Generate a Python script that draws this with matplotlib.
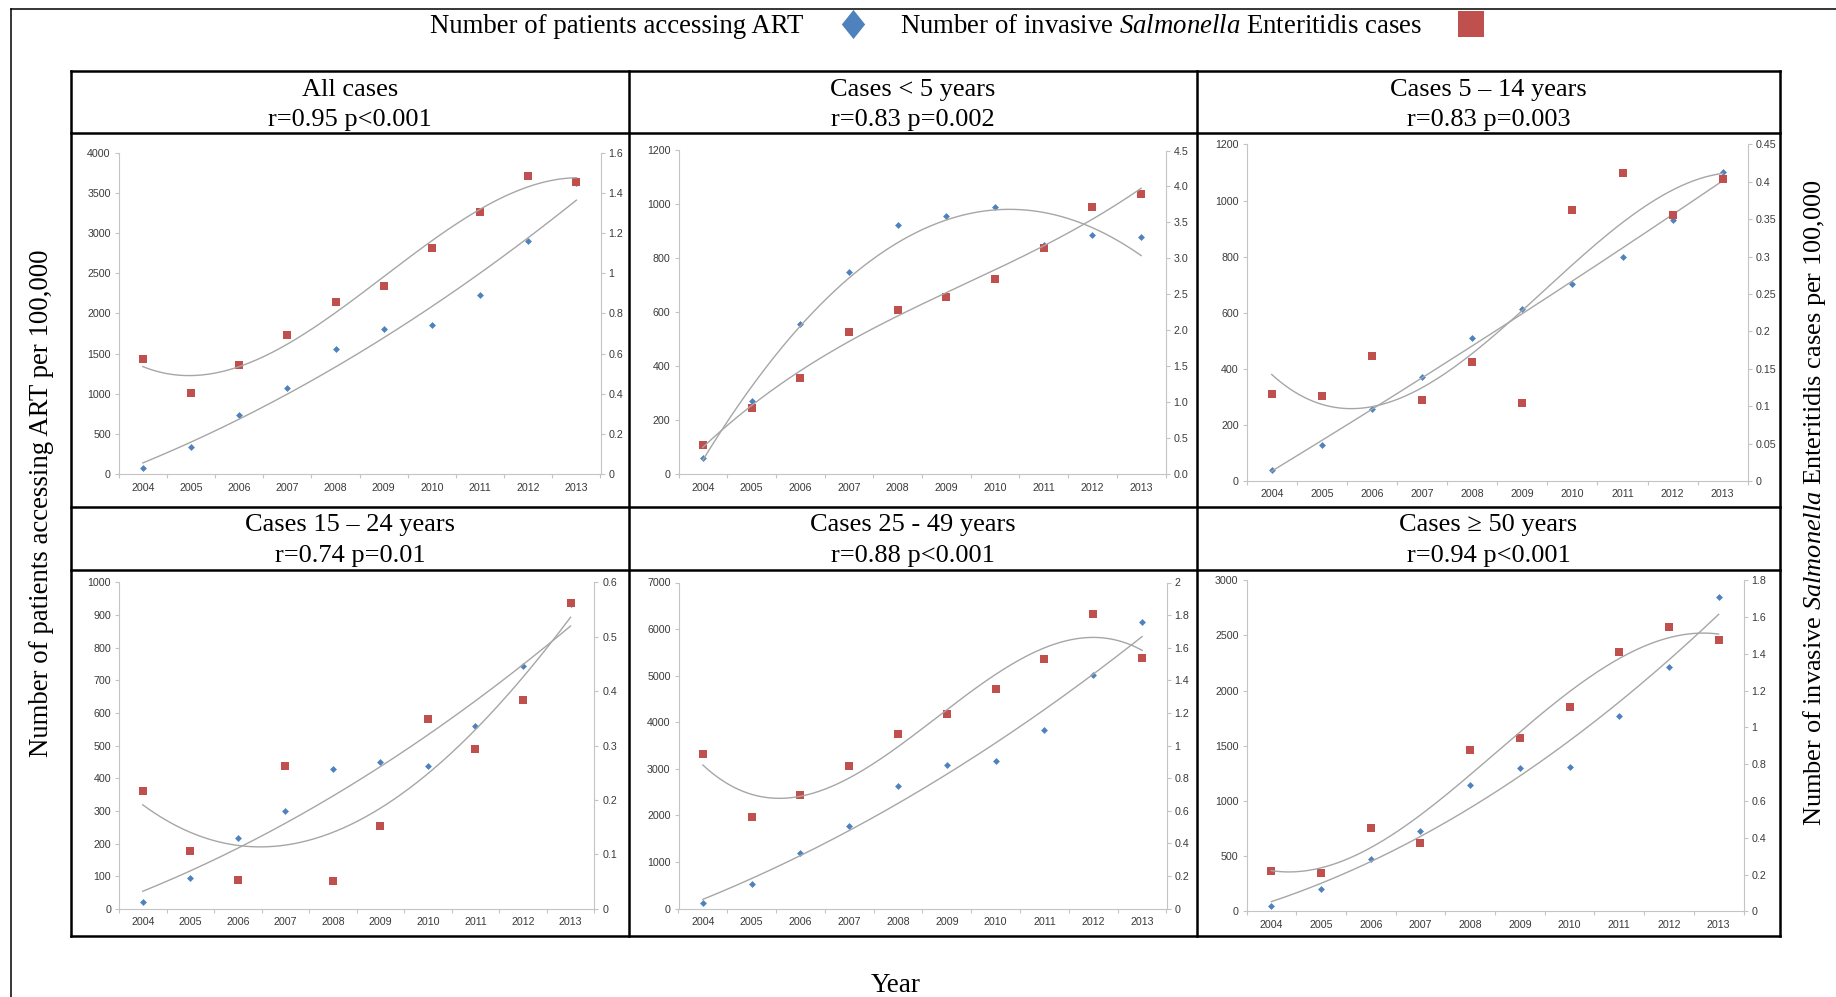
import numpy as np
import matplotlib
matplotlib.use("Agg")
import matplotlib.pyplot as plt
from matplotlib.lines import Line2D
from matplotlib.ticker import FixedLocator, FuncFormatter, NullFormatter
from matplotlib.font_manager import FontProperties

plt.rcParams['mathtext.fontset'] = 'custom'
plt.rcParams['mathtext.rm'] = 'Liberation Serif'
plt.rcParams['mathtext.it'] = 'Liberation Serif:italic'

W, H, DPI = 1836, 997, 100

# ---------------- data ----------------
years = [2004, 2005, 2006, 2007, 2008, 2009, 2010, 2011, 2012, 2013]

panel_titles = ["All cases", "Cases < 5 years", "Cases 5 \u2013 14 years",
                "Cases 15 \u2013 24 years", "Cases 25 - 49 years", "Cases \u2265 50 years"]
panel_stats = ["r=0.95 p<0.001", "r=0.83 p=0.002", "r=0.83 p=0.003",
               "r=0.74 p=0.01", "r=0.88 p<0.001", "r=0.94 p<0.001"]

art_all = [75, 333, 736, 1073, 1559, 1805, 1859, 2225, 2898, 3620]
se_all = [0.575, 0.404, 0.542, 0.694, 0.858, 0.935, 1.123, 1.306, 1.485, 1.454]
art_u5 = [60, 273, 557, 750, 924, 957, 990, 851, 885, 881]
se_u5 = [0.40, 0.92, 1.34, 1.98, 2.28, 2.46, 2.72, 3.15, 3.72, 3.90]
art_5_14 = [38, 127, 257, 371, 510, 614, 701, 798, 930, 1101]
se_5_14 = [0.117, 0.114, 0.167, 0.108, 0.159, 0.104, 0.362, 0.412, 0.356, 0.404]
art_15_24 = [22, 95, 216, 299, 427, 451, 436, 559, 744, 933]
se_15_24 = [0.216, 0.107, 0.053, 0.263, 0.052, 0.153, 0.348, 0.293, 0.383, 0.562]
art_25_49 = [122, 517, 1199, 1780, 2635, 3087, 3173, 3827, 5011, 6146]
se_25_49 = [0.946, 0.560, 0.697, 0.872, 1.073, 1.194, 1.348, 1.532, 1.809, 1.534]
art_50 = [45, 199, 477, 731, 1148, 1296, 1311, 1770, 2215, 2852]
se_50 = [0.218, 0.207, 0.455, 0.372, 0.876, 0.941, 1.109, 1.412, 1.543, 1.474]

art_series = [art_all, art_u5, art_5_14, art_15_24, art_25_49, art_50]
se_series = [se_all, se_u5, se_5_14, se_15_24, se_25_49, se_50]

left_max = [4000, 1200, 1200, 1000, 7000, 3000]
left_step = [500, 200, 200, 100, 1000, 500]
right_max = [1.6, 4.5, 0.45, 0.6, 2.0, 1.8]
right_step = [0.2, 0.5, 0.05, 0.1, 0.2, 0.2]
right_fixed_decimals = [None, 1, None, None, None, None]
art_trend_order = [2, 2, 2, 2, 2, 2]
se_trend_order = [3, 3, 3, 3, 3, 3]

legend_labels = ["Number of patients accessing ART",
                 r"Number of invasive $\it{Salmonella}$ Enteritidis cases"]

# ---------------- style ----------------
BLUE = "#4F81BD"
RED = "#C0504D"
TREND = "#A6A6A6"
AXC = "#C4C4C4"
TICKC = "#3A3A3A"
SERIF = ["Liberation Serif", "DejaVu Serif"]
TICKFONT = ["Liberation Sans Narrow", "Liberation Sans", "DejaVu Sans"]

# axes rectangles in pixels: left, right, top(max tick), bottom(zero)
panel_px = [
    (118.7, 600.5, 152.5, 474.2),
    (678.5, 1165.5, 150.5, 474.2),
    (1246.7, 1747.8, 144.5, 481.0),
    (119.0, 594.3, 582.3, 908.8),
    (678.5, 1166.5, 582.5, 908.5),
    (1246.5, 1743.5, 580.2, 911.3),
]

grid_x = [71.4, 629.0, 1197.0, 1780.0]
grid_y = [71.4, 133.5, 507.0, 570.0, 935.6]


def fx(x):
    return x / W


def fy(y):
    return 1 - y / H


fig = plt.figure(figsize=(W / DPI, H / DPI), dpi=DPI, facecolor="white")

x_years = np.array(years, dtype=float)
xs = np.linspace(years[0], years[-1], 300)

for i in range(6):
    l, r, t, b = panel_px[i]
    ax = fig.add_axes([fx(l), fy(b), fx(r) - fx(l), fy(t) - fy(b)])
    ax.set_facecolor("none")
    ax.set_xlim(years[0] - 0.5, years[-1] + 0.5)
    ax.set_ylim(0, left_max[i])
    ax.yaxis.set_major_locator(FixedLocator(np.arange(0, left_max[i] + left_step[i] / 2, left_step[i])))
    ax.yaxis.set_major_formatter(FuncFormatter(lambda v, p: f"{v:.0f}"))
    # category axis: labels at years, tick marks at boundaries
    ax.xaxis.set_major_locator(FixedLocator(years))
    ax.xaxis.set_minor_locator(FixedLocator(np.arange(years[0] - 0.5, years[-1] + 0.6, 1.0)))
    ax.xaxis.set_minor_formatter(NullFormatter())
    ax.tick_params(axis="x", which="major", length=0, labelsize=7.7, labelcolor=TICKC, pad=6)
    ax.tick_params(axis="x", which="minor", length=3.2, width=0.8, color=AXC, direction="out")
    for lab in ax.get_xticklabels():
        lab.set_fontfamily(TICKFONT)
    for s in ["top", "right"]:
        ax.spines[s].set_visible(False)
    for s in ["left", "bottom"]:
        ax.spines[s].set_color(AXC)
        ax.spines[s].set_linewidth(0.8)
    ax.tick_params(axis="y", which="major", direction="out", length=3.2,
                   width=0.8, color=AXC, labelcolor=TICKC, labelsize=7.7, pad=2.5)
    for lab in ax.get_yticklabels():
        lab.set_fontfamily(TICKFONT)

    # primary series
    art = np.array(art_series[i], dtype=float)
    ax.plot(x_years, art, linestyle="none", marker="D", ms=3.5, color=BLUE, mew=0, zorder=3)
    c = np.polyfit(x_years - years[0], art, art_trend_order[i])
    ax.plot(xs, np.polyval(c, xs - years[0]), color=TREND, lw=1.0, zorder=4)

    # secondary axis
    ax2 = ax.twinx()
    ax2.set_ylim(0, right_max[i])
    ax2.yaxis.set_major_locator(FixedLocator(np.arange(0, right_max[i] + right_step[i] / 2, right_step[i])))
    dec = right_fixed_decimals[i]
    if dec is None:
        ax2.yaxis.set_major_formatter(FuncFormatter(lambda v, p: f"{round(v, 4):g}"))
    else:
        ax2.yaxis.set_major_formatter(FuncFormatter(lambda v, p, d=dec: f"{v:.{d}f}"))
    for s in ["top", "left", "bottom"]:
        ax2.spines[s].set_visible(False)
    ax2.spines["right"].set_color(AXC)
    ax2.spines["right"].set_linewidth(0.8)
    ax2.tick_params(axis="y", which="major", direction="out", length=3.2,
                    width=0.8, color=AXC, labelcolor=TICKC, labelsize=7.7, pad=2.5)
    for lab in ax2.get_yticklabels():
        lab.set_fontfamily(TICKFONT)
    se = np.array(se_series[i], dtype=float)
    ax2.plot(x_years, se, linestyle="none", marker="s", ms=6.3, color=RED, mew=0, zorder=3)
    c2 = np.polyfit(x_years - years[0], se, se_trend_order[i])
    ax2.plot(xs, np.polyval(c2, xs - years[0]), color=TREND, lw=1.0, zorder=4)

# ---------------- table grid ----------------
GRID_LW = 1.8
for gx in grid_x:
    fig.add_artist(Line2D([fx(gx), fx(gx)], [fy(grid_y[0]), fy(grid_y[-1])],
                          transform=fig.transFigure, color="black", lw=GRID_LW))
for gy in grid_y:
    fig.add_artist(Line2D([fx(grid_x[0]), fx(grid_x[-1])], [fy(gy), fy(gy)],
                          transform=fig.transFigure, color="black", lw=GRID_LW))

# outer frame (left + top)
fig.add_artist(Line2D([fx(10.5), fx(10.5)], [fy(9.4), 0], transform=fig.transFigure, color="black", lw=1.1))
fig.add_artist(Line2D([fx(10.5), 1], [fy(9.4), fy(9.4)], transform=fig.transFigure, color="black", lw=1.1))

# headers
header_rows = [(grid_y[0], grid_y[1]), (grid_y[2], grid_y[3])]
for i in range(6):
    row, col = divmod(i, 3)
    cx = (grid_x[col] + grid_x[col + 1]) / 2
    top, bot = header_rows[row]
    fig.text(fx(cx), fy(top + 18.5), panel_titles[i], ha="center", va="center",
             fontsize=19, family=SERIF)
    fig.text(fx(cx), fy(top + 49), panel_stats[i], ha="center", va="center",
             fontsize=19, family=SERIF)

# axis titles
fig.text(fx(42), fy(503), "Number of patients accessing ART per 100,000", rotation=90,
         ha="center", va="center", fontsize=19.3, family=SERIF)
fig.text(fx(1814), fy(503), r"Number of invasive $\it{Salmonella}$ Enteritidis cases per 100,000",
         rotation=90, ha="center", va="center", fontsize=19, family=SERIF)
fig.text(fx(896), fy(985), "Year", ha="center", va="center", fontsize=19.5, family=SERIF)

# legend
h1 = Line2D([], [], linestyle="none", marker=[(0, 1), (0.8, 0), (0, -1), (-0.8, 0), (0, 1)],
            ms=21, color=BLUE, mew=0)
h2 = Line2D([], [], linestyle="none", marker="s", ms=19, color=RED, mew=0)
fig.legend([h1, h2], legend_labels, loc="center", bbox_to_anchor=(fx(957), fy(26.5)),
           ncol=2, markerfirst=False, frameon=False,
           prop=FontProperties(family=SERIF, size=19.3),
           handlelength=1.0, handletextpad=1.35, columnspacing=1.25, borderpad=0)

fig.savefig("out.png", dpi=DPI, facecolor="white")
